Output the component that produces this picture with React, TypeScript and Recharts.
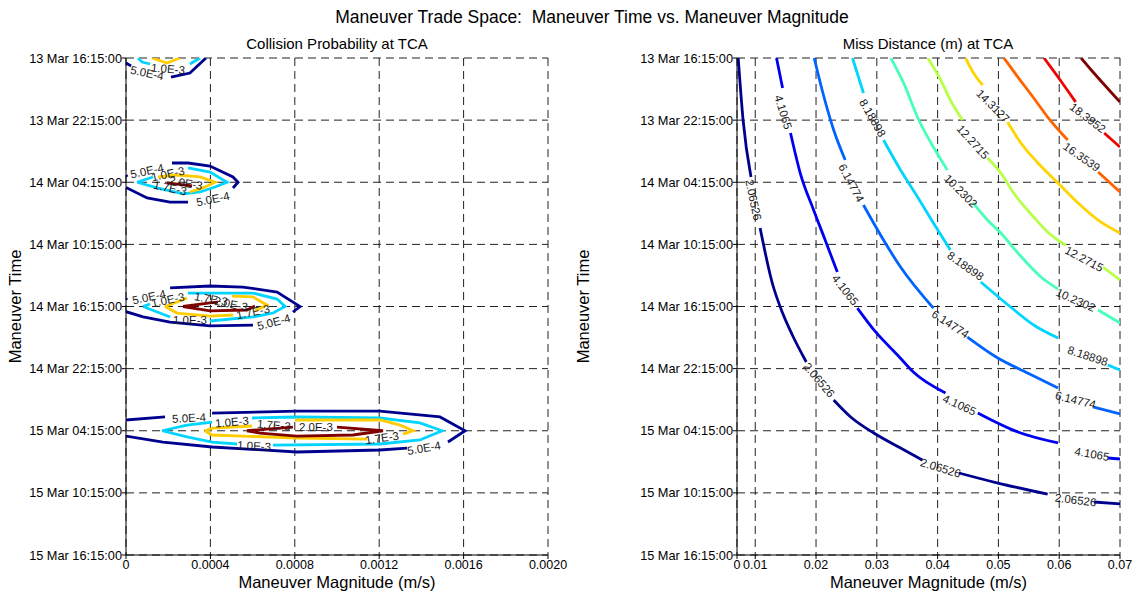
import React from 'react';
import { ComposedChart, Line, Scatter, XAxis, YAxis, CartesianGrid } from 'recharts';

type Pt = [number, number] | null;
type Lbl = [number, number, string, number];

// time axis: hours after 13 Mar 16:15:00
const yTickHours = [0, 6, 12, 18, 24, 30, 36, 42, 48];
const yTickLabels = [
    '13 Mar 16:15:00', '13 Mar 22:15:00', '14 Mar 04:15:00', '14 Mar 10:15:00', '14 Mar 16:15:00',
    '14 Mar 22:15:00', '15 Mar 04:15:00', '15 Mar 10:15:00', '15 Mar 16:15:00'
];

const probTicks = [0, 0.0004, 0.0008, 0.0012, 0.0016, 0.002];
const probTickLabels = ['0', '0.0004', '0.0008', '0.0012', '0.0016', '0.0020'];
const missTicks = [0.007, 0.01, 0.02, 0.03, 0.04, 0.05, 0.06, 0.07];
const missTickLabels = ['0', '0.01', '0.02', '0.03', '0.04', '0.05', '0.06', '0.07'];

// collision probability contours (null = break for a label)
const prob5e4: Pt[] = [
    [0.000379, 0], [0.000303, 1.45], [0.000213, 1.84], null, [0.000024, 0.77], [0, 0.48], null,
    [0, 11.3], [0.000005, 11.49], null, [0.000218, 10.14], [0.000294, 10.14], [0.000398, 10.43], [0.000507, 11.49],
    [0.000531, 12], [0.000507, 12.55], null, [0.000294, 13.91], [0.000209, 13.91], [0.0001, 13.52], [0, 12.5], null,
    [0, 23.25], [0.000005, 23.37], null, [0.000209, 22.21], [0.000398, 22.02], [0.000554, 22.12], [0.000716, 22.6],
    [0.000825, 24], [0.000791, 24.53], null, [0.000602, 25.79], [0.000398, 25.88], [0.000209, 25.5], [0.000081, 25.01],
    [0, 24.5], null,
    [0, 34.96], [0.000185, 34.67], null, [0.000408, 34.29], [0.00081, 34.1], [0.001204, 34.1], [0.001488, 34.67],
    [0.001607, 36], [0.001526, 37.09], null, [0.001332, 37.67], [0.001204, 37.86], [0.00081, 38.05], [0.000408, 37.57],
    [0.000175, 37.09], [0, 36.51]
];
const prob1e3: Pt[] = [
    [0.000057, 0], [0.000076, 0.39], [0.000114, 0.58], null, [0.000303, 0.58], [0.000351, 0], null,
    [0.000052, 12], [0.000128, 11.49], null, [0.000294, 10.62], [0.000398, 11.01], [0.000479, 12], [0.000422, 12.46],
    [0.000351, 12.94], [0.00027, 13.13], [0.000152, 12.56], [0.000052, 12], null,
    [0.000081, 24], [0.000114, 23.76], null, [0.000294, 22.7], [0.000398, 22.7], [0.000602, 22.7], [0.000716, 23.28],
    [0.000754, 24], [0.000697, 24.63], [0.000602, 25.01], [0.000398, 25.4], null, [0.000209, 25.01], [0.000081, 24], null,
    [0.000171, 36], [0.000289, 35.45], [0.000408, 35.16], null, [0.000597, 34.77], [0.00081, 34.67], [0.001204, 34.77],
    [0.001393, 35.25], [0.001498, 36], [0.001393, 36.89], [0.001204, 37.28], [0.000697, 37.38], null, [0.000526, 37.28],
    [0.000408, 37.09], [0.000289, 36.6], [0.000171, 36]
];
const prob17e3: Pt[] = [
    [0.000123, 0], [0.000194, 0.48], [0.000256, 0], null,
    [0.000152, 11.49], [0.000242, 11.3], [0.000351, 11.49], [0.000422, 12], [0.000365, 12.55], [0.000303, 12.94], null,
    [0.000185, 24], [0.000242, 23.57], [0.000289, 23.18], null, [0.000502, 22.99], [0.000602, 23.08], [0.000668, 23.85],
    [0.000611, 24.43], null, [0.000507, 24.82], [0.000398, 24.92], [0.000242, 24.63], [0.000185, 24], null,
    [0.000374, 36], [0.000412, 35.74], [0.000597, 35.54], null, [0.000801, 34.96], [0.001204, 34.96], [0.001299, 35.45],
    [0.00136, 36], [0.001313, 36.32], null, [0.001142, 36.8], [0.00081, 36.7], [0.000408, 36.41], [0.000374, 36]
];
const prob2e3: Pt[] = [
    [0.000194, 12.07], [0.000313, 12.36], null,
    [0.00027, 24], [0.000398, 23.66], [0.000436, 23.57], null, [0.000611, 23.95], [0.000573, 24.34], [0.000398, 24.43],
    [0.00027, 24], null,
    [0.000573, 36], [0.000791, 35.64], null, [0.001, 35.64], [0.001218, 36], [0.001076, 36.41], [0.00081, 36.51],
    [0.000635, 36.22], [0.000573, 36]
];

// [x, hours, text, angle]
const probLabels: Lbl[] = [
    [0.0001, 1.45, '5.0E-4', 12], [0.000199, 1.06, '1.0E-3', 5],
    [0.0001, 10.91, '5.0E-4', -12], [0.000199, 11.2, '1.0E-3', -12], [0.000284, 12.07, '2.0E-3', 10],
    [0.000209, 12.56, '1.7E-3', 12], [0.000412, 13.62, '5.0E-4', -12],
    [0.000109, 23.08, '5.0E-4', -12], [0.000199, 23.37, '1.0E-3', -12], [0.000403, 23.28, '1.7E-3', 10],
    [0.000498, 23.76, '2.0E-3', 12], [0.000602, 24.53, '1.7E-3', -12], [0.000303, 25.3, '1.0E-3', 0],
    [0.000701, 25.5, '5.0E-4', -15],
    [0.000299, 34.77, '5.0E-4', -3], [0.000502, 35.16, '1.0E-3', -5], [0.000701, 35.45, '1.7E-3', 5],
    [0.0009, 35.64, '2.0E-3', 0], [0.001213, 36.7, '1.7E-3', -8], [0.000607, 37.47, '1.0E-3', 3],
    [0.001412, 37.67, '5.0E-4', -10]
];

// miss distance contours
const miss2065: Pt[] = [
    [0.0072, 0], [0.008, 5.99], [0.0093, 11.49], null, [0.0108, 16.42], [0.0128, 21.73], [0.0145, 24.63], [0.0161, 26.75],
    [0.0184, 29.36], null, [0.0229, 33.03], [0.0257, 34.67], [0.0295, 36.22], [0.0339, 37.67], [0.0375, 38.83], null,
    [0.0435, 40.08], [0.0499, 41.05], [0.0581, 42.11], null, [0.0657, 42.88], [0.07, 43.07]
];
const miss4106: Pt[] = [
    [0.0135, 0], [0.0145, 2.9], null, [0.0158, 7.24], [0.0174, 11.11], [0.0196, 14.68], [0.0215, 17.58], [0.0235, 20.67],
    null, [0.0268, 24.15], [0.0298, 26.46], [0.0334, 28.68], [0.036, 30.33], [0.0413, 32.35], null, [0.0466, 34.29],
    [0.0532, 36.12], [0.0598, 37.18], null, [0.068, 38.63], [0.07, 38.73]
];
const miss6148: Pt[] = [
    [0.0197, 0], [0.021, 3.09], [0.0229, 6.95], [0.0248, 9.85], null, [0.0278, 14.2], [0.0311, 17.58], [0.0339, 20.19],
    [0.0393, 24.15], null, [0.0449, 26.95], [0.0499, 28.97], [0.0548, 30.42], [0.0598, 31.87], null, [0.0657, 33.71],
    [0.07, 34.38]
];
const miss8189: Pt[] = [
    [0.026, 0], [0.0278, 3.38], null, [0.0311, 7.92], [0.0339, 10.82], [0.0367, 13.42], [0.0388, 15.45], [0.0421, 18.54],
    null, [0.0471, 21.63], [0.052, 24.05], [0.0558, 25.79], [0.0598, 27.04], null, [0.068, 29.65], [0.07, 30.13]
];
const miss10230: Pt[] = [
    [0.0323, 0], [0.0344, 2.41], [0.0369, 5.99], [0.0393, 8.6], [0.0416, 10.82], null, [0.0458, 14.0], [0.0482, 15.65],
    [0.0504, 16.9], [0.0532, 18.83], [0.057, 21.15], [0.0598, 22.31], null, [0.0664, 24.34], [0.07, 25.59]
];
const miss12272: Pt[] = [
    [0.0384, 0], [0.0405, 2.12], [0.0421, 4.06], [0.0441, 5.99], null, [0.0482, 9.66], [0.0504, 11.11], [0.0525, 13.04],
    [0.0558, 15.36], [0.0581, 16.8], [0.0611, 18.1], null, [0.0672, 20.19], [0.07, 21.44]
];
const miss14313: Pt[] = [
    [0.0446, 0], [0.0459, 1.45], [0.0474, 2.61], null, [0.0515, 6.18], [0.0537, 8.21], [0.0565, 10.14], [0.0598, 12.07],
    [0.0631, 14.0], [0.0664, 15.65], [0.07, 16.9]
];
const miss16354: Pt[] = [
    [0.0509, 0], [0.0532, 1.84], [0.0558, 3.86], [0.0581, 5.7], [0.0614, 7.92], null, [0.0664, 11.01], [0.07, 12.94]
];
const miss18395: Pt[] = [
    [0.0575, 0], [0.0598, 1.84], [0.0627, 4.25], null, [0.0674, 7.24], [0.07, 8.6]
];
const miss20436: Pt[] = [
    [0.0636, 0], [0.0657, 1.45], [0.0682, 3.09], [0.07, 4.25]
];

const missLabels: Lbl[] = [
    [0.0097, 13.71, '2.06526', 78], [0.0205, 31.1, '2.06526', 50], [0.0405, 39.6, '2.06526', 17], [0.0627, 42.69, '2.06526', 7],
    [0.0146, 5.22, '4.1065', 73], [0.0248, 22.41, '4.1065', 52], [0.0436, 33.51, '4.1065', 24], [0.0654, 38.25, '4.1065', 10],
    [0.0258, 12.07, '6.14774', 62], [0.0421, 25.69, '6.14774', 33], [0.0627, 33.03, '6.14774', 14],
    [0.0293, 5.79, '8.18898', 60], [0.0446, 20.09, '8.18898', 35], [0.0647, 28.78, '8.18898', 18],
    [0.0438, 12.85, '10.2302', 45], [0.0627, 23.37, '10.2302', 24],
    [0.0458, 8.11, '12.2715', 48], [0.0641, 19.41, '12.2715', 28],
    [0.0491, 4.64, '14.3127', 45],
    [0.0637, 9.56, '16.3539', 35],
    [0.0647, 5.79, '18.3952', 37]
];

// jet colours
const probColors = ['#00008F', '#00D4FF', '#FFCC00', '#800000'];
const missColors = ['#00008F', '#0000F1', '#0063FF', '#00D4FF', '#47FFB8', '#B8FF47', '#FFD400', '#FF6300', '#F10000', '#800000'];

const FONT = '"Liberation Sans", Arial, Helvetica, sans-serif';

function toRows(pts: Pt[]) {
    const rows: { x: number; y: number | null }[] = [];
    let lastX = 0;
    pts.forEach(p => {
        if (p === null) {
            rows.push({ x: lastX, y: null });
        } else {
            lastX = p[0];
            rows.push({ x: p[0], y: p[1] });
        }
    });
    return rows;
}

const renderLabel = (props: any) => {
    const { cx, cy, payload } = props;
    if (cx == null || cy == null) return <g />;
    return (
        <text x={cx} y={cy} transform={`rotate(${payload.a} ${cx} ${cy})`} textAnchor="middle"
            dominantBaseline="central" fontSize={11.5} fontFamily={FONT} fill="#1a1a1a">
            {payload.t}
        </text>
    );
};

interface PanelProps {
    width: number;
    yAxisWidth: number;
    rightMargin: number;
    domain: [number, number];
    ticks: number[];
    tickLabels: string[];
    series: Pt[][];
    colors: string[];
    labels: Lbl[];
    curve: 'linear' | 'monotoneX';
}

const Panel: React.FC<PanelProps> = ({ width, yAxisWidth, rightMargin, domain, ticks, tickLabels, series, colors, labels, curve }) => {
    const labelRows = labels.map(([x, y, t, a]) => ({ x, y, t, a }));
    return (
        <ComposedChart width={width} height={595} margin={{ top: 58, right: rightMargin, bottom: 0, left: 0 }}>
            <CartesianGrid stroke="#222" strokeDasharray="8 5" />
            <XAxis type="number" dataKey="x" domain={domain} ticks={ticks} interval={0} allowDataOverflow
                tickFormatter={(v, i) => tickLabels[i]} height={40} tickSize={4} tickMargin={1}
                axisLine={{ stroke: '#000' }} tickLine={{ stroke: '#000' }}
                tick={{ fontSize: 12.5, fill: '#000', fontFamily: FONT }}
                label={{ value: 'Maneuver Magnitude (m/s)', position: 'insideBottom', offset: 7, style: { fontSize: 16.5, fill: '#000', fontFamily: FONT } }} />
            <XAxis xAxisId="top" orientation="top" type="number" domain={domain} allowDataOverflow height={0}
                tick={false} tickLine={false} axisLine={{ stroke: '#000' }} />
            <YAxis type="number" dataKey="y" domain={[0, 48]} reversed ticks={yTickHours} interval={0} allowDataOverflow
                tickFormatter={(v, i) => yTickLabels[i]} width={yAxisWidth} tickSize={4} tickMargin={0}
                axisLine={{ stroke: '#000' }} tickLine={{ stroke: '#000' }}
                tick={{ fontSize: 12.75, fill: '#000', fontFamily: FONT }}
                label={{ value: 'Maneuver Time', angle: -90, position: 'insideLeft', offset: 15, style: { textAnchor: 'middle', fontSize: 16.5, fill: '#000', fontFamily: FONT } }} />
            <YAxis yAxisId="right" orientation="right" type="number" domain={[0, 48]} allowDataOverflow width={0}
                tick={false} tickLine={false} axisLine={{ stroke: '#000' }} />
            {series.map((pts, i) => (
                <Line key={i} data={toRows(pts)} dataKey="y" type={curve} stroke={colors[i]} strokeWidth={2.8}
                    dot={false} activeDot={false} connectNulls={false} isAnimationActive={false} />
            ))}
            <Scatter data={labelRows} dataKey="y" shape={renderLabel} isAnimationActive={false} />
        </ComposedChart>
    );
};

export default function App() {
    return (
        <div style={{ position: 'absolute', left: 0, top: 0, width: 1133, height: 595, background: '#fff', fontFamily: FONT }}>
            <svg width={1133} height={595} style={{ position: 'absolute', left: 0, top: 0 }}>
                <text x={592} y={23} textAnchor="middle" fontSize={17.5} fontFamily={FONT} fill="#000" style={{ whiteSpace: 'pre' }}>
                    Maneuver Trade Space:  Maneuver Time vs. Maneuver Magnitude
                </text>
                <text x={337} y={49} textAnchor="middle" fontSize={15} fontFamily={FONT} fill="#000">Collision Probability at TCA</text>
                <text x={928} y={49} textAnchor="middle" fontSize={15} fontFamily={FONT} fill="#000">Miss Distance (m) at TCA</text>
            </svg>
            <div style={{ position: 'absolute', left: 0, top: 0 }}>
                <Panel width={585} yAxisWidth={126} rightMargin={37} domain={[0, 0.002]} ticks={probTicks}
                    tickLabels={probTickLabels} series={[prob5e4, prob1e3, prob17e3, prob2e3]} colors={probColors}
                    labels={probLabels} curve="linear" />
            </div>
            <div style={{ position: 'absolute', left: 568, top: 0 }}>
                <Panel width={565} yAxisWidth={169} rightMargin={13} domain={[0.007, 0.07]} ticks={missTicks}
                    tickLabels={missTickLabels}
                    series={[miss2065, miss4106, miss6148, miss8189, miss10230, miss12272, miss14313, miss16354, miss18395, miss20436]}
                    colors={missColors} labels={missLabels} curve="monotoneX" />
            </div>
        </div>
    );
}
